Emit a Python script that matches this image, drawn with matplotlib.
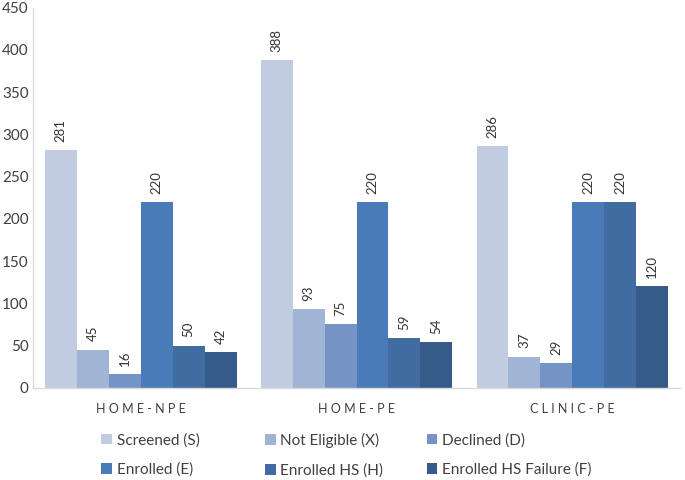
import matplotlib
matplotlib.use("Agg")
import matplotlib.pyplot as plt
import numpy as np

categories = ["HOME-NPE", "HOME-PE", "CLINIC-PE"]
series_names = ["Screened (S)", "Not Eligible (X)", "Declined (D)",
                "Enrolled (E)", "Enrolled HS (H)", "Enrolled HS Failure (F)"]
screened = [281, 388, 286]
not_eligible = [45, 93, 37]
declined = [16, 75, 29]
enrolled = [220, 220, 220]
enrolled_hs = [50, 59, 220]
enrolled_hs_failure = [42, 54, 120]
y_ticks = [0, 50, 100, 150, 200, 250, 300, 350, 400, 450]

series = [screened, not_eligible, declined, enrolled, enrolled_hs, enrolled_hs_failure]
colors = ["#C1CCE1", "#A1B4D6", "#7693C6", "#4A7BB9", "#406CA2", "#375B89"]

plt.rcParams['font.family'] = ['Lato', 'DejaVu Sans']
fig = plt.figure(figsize=(6.85, 4.8), dpi=100)
ax = fig.add_axes([0.048, 0.192, 0.945, 0.792])

x = np.arange(len(categories))
n = len(series)
w = 0.148
handles = []
for i, (vals, c, name) in enumerate(zip(series, colors, series_names)):
    pos = x + (i - (n - 1) / 2) * w
    bars = ax.bar(pos, vals, width=w, color=c, label=name, linewidth=0)
    handles.append(bars)
    for b, v in zip(bars, vals):
        ax.annotate(str(v), (b.get_x() + b.get_width() / 2, v),
                    xytext=(0, 6), textcoords="offset points",
                    rotation=90, ha="center", va="bottom",
                    fontsize=9.5, color="#333333")

ax.set_xlim(-0.5, 2.5)
ax.set_ylim(0, 450)
ax.set_yticks(y_ticks)
ax.tick_params(axis="y", length=0, labelsize=11, labelcolor="#404040", pad=3)
ax.set_xticks(x)
ax.set_xticklabels([" ".join(c) for c in categories], fontsize=9, color="#404040")
ax.tick_params(axis="x", length=0, pad=11)
for s in ["top", "right"]:
    ax.spines[s].set_visible(False)
for s in ["left", "bottom"]:
    ax.spines[s].set_color("#D9D9D9")
    ax.spines[s].set_linewidth(1)

col_x = [0.148, 0.387, 0.623]
for j in range(3):
    hs = [handles[j], handles[j + 3]]
    ls = [series_names[j], series_names[j + 3]]
    fig.legend(hs, ls, loc="upper left", bbox_to_anchor=(col_x[j], 0.098),
               ncol=1, frameon=False, fontsize=11, handlelength=0.7,
               handleheight=0.7, handletextpad=0.3, labelspacing=1.0,
               borderaxespad=0, borderpad=0, labelcolor="#404040")

fig.savefig("out.png", dpi=100)
